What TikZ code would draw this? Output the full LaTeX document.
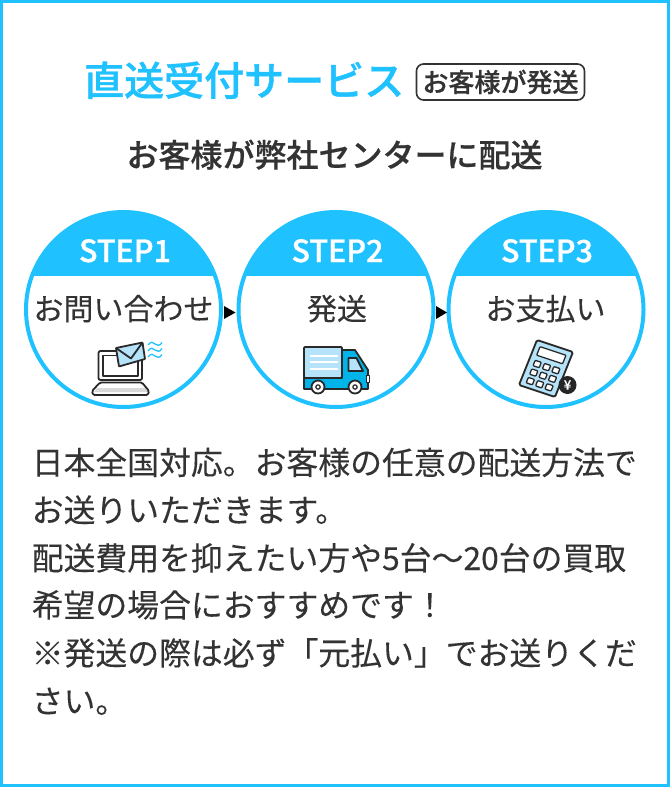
\documentclass[tikz,border=0pt]{standalone}
\usepackage{fontspec}
\newfontfamily\jp[FakeBold=0.12]{Noto Sans CJK JP}
\newfontfamily\jpm[FakeBold=0.55]{Noto Sans CJK JP Medium}
\newfontfamily\jpt[FakeBold=0.95]{Noto Sans CJK JP Medium}
\usetikzlibrary{calc}
\definecolor{sky}{HTML}{1FC1FF}
\definecolor{ink}{HTML}{333333}
\definecolor{pale}{HTML}{B5E3FA}
\definecolor{cyanbody}{HTML}{00B4EA}
\tikzset{
  x=1pt,y=-1pt,
  bodytext/.style={anchor=base west,inner sep=0pt,text=ink,font=\jp\fontsize{31.85}{32}\selectfont},
  steptitle/.style={anchor=base,inner sep=0pt,text=white,font=\jpt\fontsize{30.5}{30}\selectfont},
  steplabel/.style={anchor=base,inner sep=0pt,text=ink,font=\jp\fontsize{30}{30}\selectfont},
  stepcircle/.style={circle,minimum size=195pt,inner sep=0pt,draw=sky,line width=4pt},
  iconline/.style={draw=ink!80!black,line width=1.8pt,line join=round},
  tri/.style={fill=black,draw=none},
}
\newcommand{\stepdisc}[2]{%
  \begin{scope}
    \clip (#1,#2) circle (97.5pt);
    \fill[sky] (#1-100,#2-100) rectangle (#1+100,276);
  \end{scope}
}
\begin{document}
\begin{tikzpicture}
\useasboundingbox (0,0) rectangle (670,787);
\fill[white] (0,0) rectangle (670,787);
\draw[sky,line width=3pt] (1.5,1.5) rectangle (668.5,785.5);

% heading
\node[anchor=base west,inner sep=0pt,text=sky,font=\jpt\fontsize{40}{40}\selectfont] (title) at (84,95.5) {直送受付サービス};
\node[draw=ink,line width=1.6pt,rounded corners=7pt,minimum width=168pt,minimum height=36pt,inner sep=0pt,text=ink,font=\jpm\fontsize{26}{26}\selectfont] (badge) at (500.5,82) {お客様が発送};
\node[anchor=base,inner sep=0pt,text=ink,font=\jpm\fontsize{32}{32}\selectfont] (sub) at (334.5,167) {お客様が弊社センターに配送};

% circles
\stepdisc{123.5}{309.5}
\stepdisc{336}{309.5}
\stepdisc{546}{309.5}
\node[stepcircle] (c1) at (123.5,309.5) {};
\node[stepcircle] (c2) at (336,309.5) {};
\node[stepcircle] (c3) at (546,309.5) {};
\node[steptitle] (s1) at (125,262) {STEP1};
\node[steptitle] (s2) at (337.5,262) {STEP2};
\node[steptitle] (s3) at (547,262) {STEP3};
\node[steplabel] (l1) at (123.5,320) {お問い合わせ};
\node[steplabel] (l2) at (337,320) {発送};
\node[steplabel] (l3) at (545.5,320) {お支払い};

% arrows between circles
\fill[tri] ($(c1.center)+(100.5,-3.5)$) -- ($(c1.center)+(112,3)$) -- ($(c1.center)+(100.5,9.5)$) -- cycle;
\fill[tri] ($(c2.center)+(100,-3.5)$) -- ($(c2.center)+(111,3)$) -- ($(c2.center)+(100,9.5)$) -- cycle;

% laptop
\draw[iconline,fill=white,rounded corners=2pt] (98.5,351) rectangle (142,380);
\draw[iconline,fill=white] (103,355.5) rectangle (138,376);
\fill[gray!30] (97,388) -- (145,388) -- (148,392) -- (94,392) -- cycle;
\draw[iconline,rounded corners=1.5pt] (100,382.5) -- (142,382.5) -- (149,391) -- (148,395) -- (93,395) -- (92,391) -- cycle;
\draw[iconline,fill=pale,rounded corners=.5pt] (116,348) -- (142.5,342.5) -- (145,359) -- (119,366.5) -- cycle;
\draw[iconline] (116,348) -- (131,358.5) -- (142.5,342.5);
\foreach \wy in {344,350,356}{
  \draw[sky,line width=1.3pt] (148,\wy+1) .. controls (151,\wy-3) and (153,\wy-2) .. (155,\wy) .. controls (157,\wy+2) and (160,\wy+2) .. (162,\wy-1.5);
}

% truck
\draw[iconline,fill=cyanbody] (304,378) -- (342,378) -- (342,350) -- (355,350) -- (368,370) -- (368,389) -- (304,389) -- cycle;
\draw[iconline,fill=pale,rounded corners=1pt] (304,347) -- (342,347) -- (342,378) -- (304,378) -- cycle;
\foreach \ly in {356,362,369}{
  \fill[white] (310,\ly-.8) rectangle (338,\ly+.8);
}
\draw[iconline,fill=pale] (348.5,358) -- (356.5,358) -- (363,371) -- (348.5,371) -- cycle;
\draw[iconline,fill=white,line width=1pt] (366,375.5) rectangle (369,382);
\foreach \wx in {318,355}{
  \draw[iconline,fill=white] (\wx,387) circle (6.5pt);
  \draw[iconline,fill=white,line width=1.2pt] (\wx,387) circle (2.2pt);
}

% calculator
\begin{scope}[shift={(537,340)},x={(36pt,-12pt)},y={(-18pt,-45pt)}]
  \draw[iconline,fill=pale,rounded corners=1.5pt] (0,0) -- (1,0) -- (1,1) -- (0,1) -- cycle;
  \draw[iconline,fill=white,rounded corners=.8pt,line width=1.3pt] (.14,.11) -- (.86,.11) -- (.86,.30) -- (.14,.30) -- cycle;
  \foreach \ku in {.24,.50,.76}{
    \foreach \kv in {.47,.66,.85}{
      \draw[iconline,fill=white,rounded corners=.8pt,line width=1.3pt] (\ku-.085,\kv-.06) -- (\ku+.085,\kv-.06) -- (\ku+.085,\kv+.06) -- (\ku-.085,\kv+.06) -- cycle;
    }
  }
\end{scope}
\fill[black!85] (567.5,385) circle (9pt);
\node[inner sep=0pt,text=white,font=\jpm\fontsize{13}{13}\selectfont] (yen) at (567.5,385) {¥};

% body text
\node[bodytext] (t1) at (31.5,474.5) {日本全国対応。お客様の任意の配送方法で};
\node[bodytext] (t2) at (31.5,522) {お送りいただきます。};
\node[bodytext] (t3) at (31.5,570) {配送費用を抑えたい方や5台〜20台の買取};
\node[bodytext] (t4) at (31.5,617) {希望の場合におすすめです！};
\node[bodytext] (t5) at (31.5,665) {※発送の際は必ず「元払い」でお送りくだ};
\node[bodytext] (t6) at (31.5,713) {さい。};
\end{tikzpicture}
\end{document}
